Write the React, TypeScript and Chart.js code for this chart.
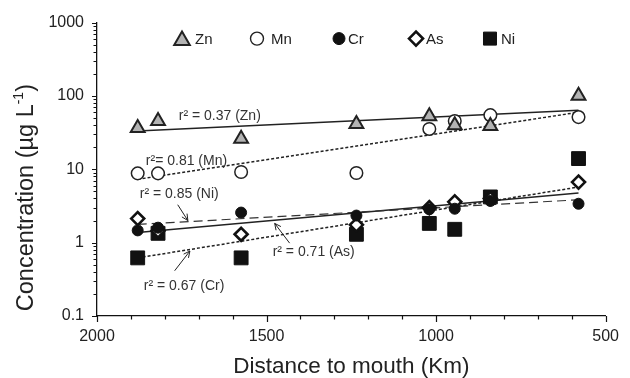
import React, { useEffect, useRef } from 'react';
import { Chart, registerables } from 'chart.js';
import { drawPoint } from 'chart.js/helpers';

Chart.register(...registerables);

const FONT = '"Liberation Sans", Arial, Helvetica, sans-serif';

// ---- data ----
const distanceKm = [1880, 1820, 1575, 1235, 1020, 945, 840, 580];
const zn = [36.6, 45.5, 26, 41.4, 53, 40, 39, 101];
const mn = [8.8, 8.8, 9.2, 8.9, 35.5, 45.5, 54.7, 51.5];
const cr = [1.47, 1.6, 2.57, 2.34, 2.85, 2.9, 3.7, 3.39];
const as = [2.13, 1.45, 1.3, 1.75, 3.0, 3.6, 4.0, 6.7];
const ni = [0.62, 1.34, 0.62, 1.3, 1.83, 1.52, 4.2, 14];

const trendKm = [1880, 580];
const znTrend = [33.4, 63.9];
const mnTrend = [7.3, 60];
const niTrend = [1.77, 3.84];
const asTrend = [1.38, 4.76];
const crTrend = [0.62, 5.73];

const xTickValues = [2000, 1500, 1000, 500];
const xTickLabels = ['2000', '1500', '1000', '500'];
const yTickValues = [0.1, 1, 10, 100, 1000];
const yTickLabels = ['0.1', '1', '10', '100', '1000'];

const seriesNames = ['Zn', 'Mn', 'Cr', 'As', 'Ni'];

const annotationText = ['r\u00B2 = 0.37 (Zn)', 'r\u00B2= 0.81 (Mn)', 'r\u00B2 = 0.85 (Ni)', 'r\u00B2 = 0.71 (As)', 'r\u00B2 = 0.67 (Cr)'];
const annotationKm = [1759, 1856, 1874, 1482, 1862];
const annotationVal = [53, 12.8, 4.6, 0.746, 0.253];

const arrowFromKm = [1762, 1432, 1771];
const arrowFromVal = [3.29, 0.985, 0.414];
const arrowToKm = [1732, 1476, 1726];
const arrowToVal = [2.0, 1.83, 0.769];

const toXY = (xs: number[], ys: number[]) => xs.map((x, i) => ({ x, y: ys[i] }));

export default function App() {
  const ref = useRef<HTMLCanvasElement>(null);

  useEffect(() => {
    if (!ref.current) return;

    const legendStyles = [
      { pointStyle: 'triangle', radius: 9, fill: '#b3b3b3', stroke: '#222', width: 2 },
      { pointStyle: 'circle', radius: 6.5, fill: '#fff', stroke: '#222', width: 1.4 },
      { pointStyle: 'circle', radius: 6, fill: '#111', stroke: '#111', width: 1 },
      { pointStyle: 'rectRot', radius: 7, fill: '#fff', stroke: '#111', width: 2.6 },
      { pointStyle: 'rect', radius: 9.2, fill: '#111', stroke: '#111', width: 1 },
    ];
    const legendSymbolOffset = [85, 160, 242, 319, 393];
    const legendTextOffset = [98, 174, 251, 329, 404];

    const overlay = {
      id: 'overlay',
      afterDraw(chart: any) {
        const ctx = chart.ctx as CanvasRenderingContext2D;
        const xs = chart.scales.x;
        const ys = chart.scales.y;
        const area = chart.chartArea;
        ctx.save();
        // tick marks
        ctx.strokeStyle = '#111';
        ctx.lineWidth = 1.2;
        ctx.beginPath();
        for (let e = -1; e <= 3; e++) {
          const d = Math.pow(10, e);
          const py = Math.round(ys.getPixelForValue(d)) + 0.5;
          ctx.moveTo(area.left - 5, py);
          ctx.lineTo(area.left, py);
          if (e < 3) {
            for (let k = 2; k <= 9; k++) {
              const p = Math.round(ys.getPixelForValue(k * d)) + 0.5;
              ctx.moveTo(area.left - 3.5, p);
              ctx.lineTo(area.left, p);
            }
          }
        }
        for (let v = 500; v <= 2000; v += 100) {
          const px = Math.round(xs.getPixelForValue(v)) + 0.5;
          const len = v % 500 === 0 ? 6 : 3.5;
          ctx.moveTo(px, area.bottom);
          ctx.lineTo(px, area.bottom + len);
        }
        ctx.stroke();

        // legend
        const ly = area.top + 16;
        ctx.font = `15px ${FONT}`;
        ctx.fillStyle = '#222';
        ctx.textBaseline = 'middle';
        ctx.textAlign = 'left';
        seriesNames.forEach((name, i) => {
          const st = legendStyles[i];
          ctx.save();
          ctx.fillStyle = st.fill;
          ctx.strokeStyle = st.stroke;
          ctx.lineWidth = st.width;
          drawPoint(ctx, { pointStyle: st.pointStyle as any, radius: st.radius, rotation: 0, borderWidth: st.width }, area.left + legendSymbolOffset[i], ly + (st.pointStyle === 'triangle' ? 2 : 0));
          ctx.restore();
          ctx.fillStyle = '#222';
          ctx.font = `15px ${FONT}`;
          ctx.fillText(name, area.left + legendTextOffset[i], ly + 1);
        });

        // annotations
        ctx.font = `14px ${FONT}`;
        ctx.fillStyle = '#333';
        ctx.textBaseline = 'middle';
        annotationText.forEach((t, i) => {
          ctx.fillText(t, xs.getPixelForValue(annotationKm[i]), ys.getPixelForValue(annotationVal[i]));
        });
        ctx.strokeStyle = '#222';
        ctx.lineWidth = 1;
        arrowFromKm.forEach((_, i) => {
          const x1 = xs.getPixelForValue(arrowFromKm[i]);
          const y1 = ys.getPixelForValue(arrowFromVal[i]);
          const x2 = xs.getPixelForValue(arrowToKm[i]);
          const y2 = ys.getPixelForValue(arrowToVal[i]);
          const a = Math.atan2(y2 - y1, x2 - x1);
          const h = 7;
          ctx.beginPath();
          ctx.moveTo(x1, y1);
          ctx.lineTo(x2, y2);
          ctx.moveTo(x2 - h * Math.cos(a - 0.45), y2 - h * Math.sin(a - 0.45));
          ctx.lineTo(x2, y2);
          ctx.lineTo(x2 - h * Math.cos(a + 0.45), y2 - h * Math.sin(a + 0.45));
          ctx.stroke();
        });

        // axis titles
        ctx.fillStyle = '#222';
        ctx.font = `22.5px ${FONT}`;
        ctx.textAlign = 'center';
        ctx.textBaseline = 'alphabetic';
        ctx.fillText('Distance to mouth (Km)', (area.left + area.right) / 2, 373);

        // y title with superscript
        const main = 'Concentration (\u00B5g L';
        const sup = '-1';
        const tail = ')';
        ctx.font = `23.5px ${FONT}`;
        const wMain = ctx.measureText(main).width;
        const wTail = ctx.measureText(tail).width;
        ctx.font = `14px ${FONT}`;
        const wSup = ctx.measureText(sup).width;
        const total = wMain + wSup + wTail;
        ctx.translate(33, area.top + 175);
        ctx.rotate(-Math.PI / 2);
        ctx.textAlign = 'left';
        let cx = -total / 2;
        ctx.font = `23.5px ${FONT}`;
        ctx.fillText(main, cx, 0);
        cx += wMain;
        ctx.font = `14px ${FONT}`;
        ctx.fillText(sup, cx, -10);
        cx += wSup;
        ctx.font = `23.5px ${FONT}`;
        ctx.fillText(tail, cx, 0);
        ctx.restore();
      },
    };

    const lineDs = (data: number[], dash: number[], width: number, color: string) => ({
      type: 'line' as const,
      data: toXY(trendKm, data),
      borderColor: color,
      borderWidth: width,
      borderDash: dash,
      pointRadius: 0,
      fill: false,
      tension: 0,
      order: 10,
    });

    const chart = new Chart(ref.current, {
      type: 'scatter',
      data: {
        datasets: [
          { label: 'Zn', data: toXY(distanceKm, zn), pointStyle: 'triangle', pointRadius: 8, backgroundColor: '#b3b3b3', borderColor: '#222', borderWidth: 2, order: 1 },
          { label: 'Mn', data: toXY(distanceKm, mn), pointStyle: 'circle', pointRadius: 6.3, backgroundColor: '#fff', borderColor: '#222', borderWidth: 1.5, order: 2 },
          { label: 'Cr', data: toXY(distanceKm, cr), pointStyle: 'circle', pointRadius: 5.5, backgroundColor: '#111', borderColor: '#111', borderWidth: 1, order: 3 },
          { label: 'As', data: toXY(distanceKm, as), pointStyle: 'rectRot', pointRadius: 6.5, backgroundColor: '#fff', borderColor: '#111', borderWidth: 2.6, order: 4 },
          { label: 'Ni', data: toXY(distanceKm, ni), pointStyle: 'rect', pointRadius: 9.8, backgroundColor: '#111', borderColor: '#111', borderWidth: 1, order: 5 },
          lineDs(znTrend, [], 1.5, '#222'),
          lineDs(mnTrend, [3, 2], 1.5, '#222'),
          lineDs(niTrend, [9, 5], 1.2, '#333'),
          lineDs(asTrend, [], 1.5, '#222'),
          lineDs(crTrend, [3, 2], 1.5, '#222'),
        ] as any,
      },
      options: {
        animation: false,
        responsive: false,
        events: [],
        layout: { padding: { left: 0, right: 23, top: 17, bottom: 0 } },
        plugins: { legend: { display: false }, tooltip: { enabled: false } },
        scales: {
          x: {
            type: 'linear',
            reverse: true,
            min: 500,
            max: 2000,
            afterBuildTicks: (s: any) => { s.ticks = xTickValues.map((v) => ({ value: v })); },
            afterFit: (s: any) => { s.height = 62; },
            grid: { display: false, drawTicks: false },
            border: { display: true, color: '#111', width: 1.3 },
            ticks: {
              padding: 11,
              autoSkip: false,
              maxRotation: 0,
              color: '#222',
              font: { family: FONT, size: 16 },
              callback: (v: any) => {
                const i = xTickValues.indexOf(Number(v));
                return i >= 0 ? xTickLabels[i] : '';
              },
            },
          },
          y: {
            type: 'logarithmic',
            min: 0.1,
            max: 1000,
            afterBuildTicks: (s: any) => { s.ticks = yTickValues.map((v) => ({ value: v })); },
            afterFit: (s: any) => { s.width = 97; },
            grid: { display: false, drawTicks: false },
            border: { display: true, color: '#111', width: 1.3 },
            ticks: {
              padding: 13,
              autoSkip: false,
              color: '#222',
              font: { family: FONT, size: 16 },
              callback: (v: any) => {
                const n = Number(v);
                const i = yTickValues.findIndex((t) => Math.abs(t - n) / t < 1e-6);
                return i >= 0 ? yTickLabels[i] : '';
              },
            },
          },
        },
      },
      plugins: [overlay],
    } as any);

    return () => chart.destroy();
  }, []);

  return (
    <div style={{ position: 'fixed', left: 0, top: 0, width: 630, height: 378, background: '#fff' }}>
      <canvas ref={ref} width={630} height={378} style={{ display: 'block' }} />
    </div>
  );
}
